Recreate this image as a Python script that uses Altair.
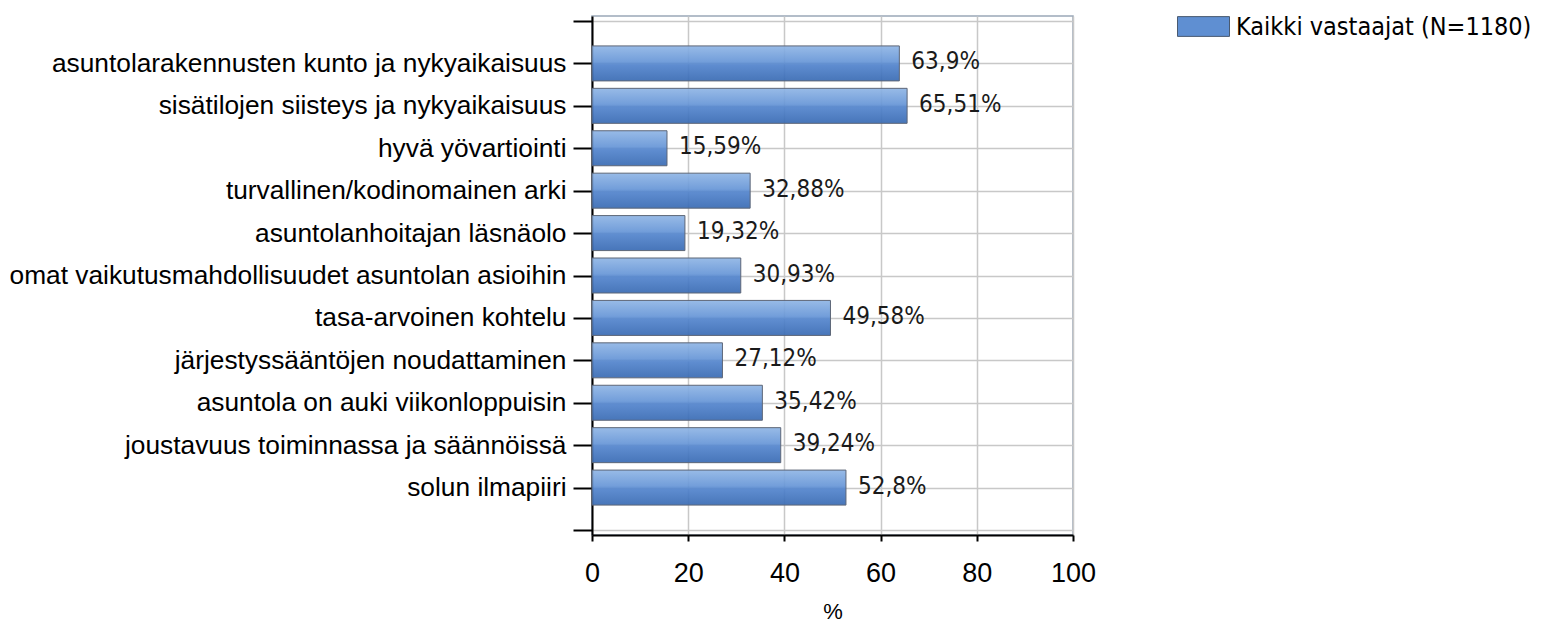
import json
import altair as alt
import pandas as pd

categories = [
    "asuntolarakennusten kunto ja nykyaikaisuus",
    "sisätilojen siisteys ja nykyaikaisuus",
    "hyvä yövartiointi",
    "turvallinen/kodinomainen arki",
    "asuntolanhoitajan läsnäolo",
    "omat vaikutusmahdollisuudet asuntolan asioihin",
    "tasa-arvoinen kohtelu",
    "järjestyssääntöjen noudattaminen",
    "asuntola on auki viikonloppuisin",
    "joustavuus toiminnassa ja säännöissä",
    "solun ilmapiiri",
]
values = [63.9, 65.51, 15.59, 32.88, 19.32, 30.93, 49.58, 27.12, 35.42, 39.24, 52.8]
series_name = "Kaikki vastaajat (N=1180)"
x_ticks = [0, 20, 40, 60, 80, 100]
x_title = "%"

df = pd.DataFrame({
    "category": categories,
    "pos": list(range(1, len(categories) + 1)),
    "value": values,
    "label": [f"{v:g}".replace(".", ",") + "%" for v in values],
    "series": series_name,
})

ARIAL = "'Liberation Sans', Arial, sans-serif"
TAHOMA = "'DejaVu Sans Condensed', 'DejaVu Sans', sans-serif"

cat_array = "[" + ",".join(json.dumps(c, ensure_ascii=False) for c in categories) + "]"
label_expr = f"{cat_array}[datum.value - 1] || ''"

x_enc = alt.X(
    "value:Q",
    scale=alt.Scale(domain=[0, 100], nice=False, zero=True),
    axis=alt.Axis(
        values=x_ticks, tickSize=6, tickWidth=2, tickColor="black",
        domainColor="black", domainWidth=2,
        labelFont=ARIAL, labelFontSize=27, labelColor="black", labelPadding=19,
        labelFlush=False, labelOverlap=False,
        grid=True, gridColor="#c8c8c8", gridWidth=1.5,
        title=x_title, titleFont=ARIAL, titleFontSize=22, titleFontWeight="normal",
        titleColor="black", titlePadding=15,
    ),
)
y_enc = alt.Y(
    "pos:Q",
    scale=alt.Scale(domain=[0, len(categories) + 1], reverse=True, nice=False, zero=False),
    axis=alt.Axis(
        values=list(range(0, len(categories) + 2)), labelExpr=label_expr,
        tickSize=19, tickWidth=2, tickColor="black",
        domainColor="black", domainWidth=2,
        labelFont=ARIAL, labelFontSize=26.3, labelColor="black", labelPadding=7,
        labelLimit=800, labelOverlap=False, labelBaseline="middle",
        grid=True, gridColor="#c8c8c8", gridWidth=1.5,
        title=None,
    ),
)

gradient = {
    "gradient": "linear",
    "x1": 0, "x2": 0, "y1": 0, "y2": 1,
    "stops": [
        {"offset": 0, "color": "#8fb5e5"},
        {"offset": 0.45, "color": "#6796d7"},
        {"offset": 0.55, "color": "#5183cc"},
        {"offset": 1, "color": "#386ab3"},
    ],
}

base = alt.Chart(df)

bars = base.mark_bar(
    orient="horizontal", size=35, color=gradient, fillOpacity=0.92,
    stroke="#5d6677", strokeWidth=1,
).encode(x=x_enc, y=y_enc)

texts = base.mark_text(
    align="left", baseline="middle", dx=12, dy=-1,
    font=TAHOMA, fontSize=24, color="#1a1a1a",
).encode(x=x_enc, y=y_enc, text="label:N")

legend_layer = base.mark_point(size=0, opacity=0, filled=True).encode(
    x=x_enc, y=y_enc,
    color=alt.Color(
        "series:N",
        scale=alt.Scale(range=["#5f8fd2"]),
        legend=alt.Legend(
            orient="none", legendX=585, legendY=-16, title=None, padding=0,
            symbolType="M-1,-0.38L1,-0.38L1,0.38L-1,0.38Z", symbolSize=2704,
            symbolOpacity=1, symbolStrokeColor="#4a5a70", symbolStrokeWidth=1,
            labelFont=TAHOMA, labelFontSize=25, labelColor="black",
            labelOffset=6, labelLimit=500,
        ),
    ),
)

chart = alt.layer(bars, texts, legend_layer).properties(
    width=481, height=519,
    autosize=alt.AutoSizeParams(type="none"),
    padding={"left": 584, "top": 8, "right": 465, "bottom": 92},
).configure_view(stroke="#9aa8b8", strokeWidth=1.5)

chart.save("out.html", embed_options={"renderer": "svg", "actions": False})
